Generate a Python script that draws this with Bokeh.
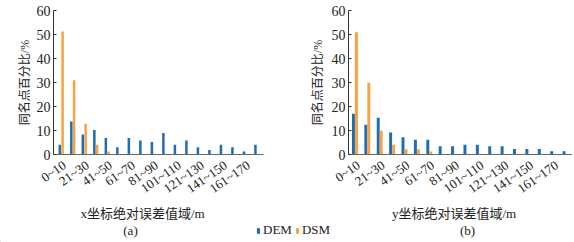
import math
from bokeh.plotting import figure
from bokeh.models import Range1d, FixedTicker, Label, Legend, LegendItem
from bokeh.layouts import column, row
from bokeh.embed import file_html
from bokeh.resources import INLINE

categories = ["0~10", "11~20", "21~30", "31~40", "41~50", "51~60", "61~70",
              "71~80", "81~90", "91~100", "101~110", "111~120", "121~130",
              "131~140", "141~150", "151~160", "161~170", "171~180"]

x_dem = [4.1, 13.8, 8.3, 10.2, 6.9, 3.0, 6.9, 5.8, 5.2, 9.0, 4.1, 5.8, 3.0, 1.9, 4.1, 3.0, 1.2, 4.1]
x_dsm = [51.2, 30.9, 12.8, 4.1, 1.2, 0, 0, 0, 0, 0, 0, 0, 0, 0, 0, 0, 0, 0]
y_dem = [17.0, 12.4, 15.3, 9.2, 7.2, 6.1, 6.1, 3.4, 3.4, 4.1, 4.1, 3.4, 3.4, 2.3, 2.3, 2.3, 1.4, 1.4]
y_dsm = [50.9, 29.9, 9.9, 4.1, 2.2, 2.2, 1.2, 0, 0, 0, 0, 0, 0, 0, 0, 0, 0, 0]

y_ticks = [0, 10, 20, 30, 40, 50, 60]
series_names = ["DEM", "DSM"]
xlabel_a = "x坐标绝对误差值域/m"
xlabel_b = "y坐标绝对误差值域/m"
ylabel = "同名点百分比/%"

BLUE = "#1f6fb0"
ORANGE = "#f5a347"
SERIF = "Liberation Serif"
CJK = "Liberation Serif, Noto Sans CJK SC"


def make_panel(dem, dsm, xr, bar_w, off, border_left, frame_w, border_right,
               lab_standoff, tick_standoff):
    p = figure(frame_width=frame_w, frame_height=144,
               x_range=Range1d(*xr), y_range=Range1d(0, 60),
               output_backend="svg", toolbar_location=None,
               min_border_left=border_left, min_border_right=border_right,
               min_border_top=10, min_border_bottom=52)
    idx = list(range(len(categories)))
    p.vbar(x=idx, top=dem, width=bar_w, color=BLUE, line_color=None)
    p.vbar(x=[i + off for i in idx], top=dsm, width=bar_w, color=ORANGE, line_color=None)
    p.xgrid.visible = False
    p.ygrid.visible = False
    p.outline_line_color = None

    xa = p.xaxis[0]
    tick_pos = [i + 0.4 for i in idx[::2]]
    xa.ticker = FixedTicker(ticks=tick_pos)
    xa.major_label_overrides = {t: categories[i] for t, i in zip(tick_pos, idx[::2])}
    xa.major_label_orientation = 35 * math.pi / 180
    xa.major_tick_line_color = None
    xa.minor_tick_line_color = None
    xa.axis_line_color = "#666666"
    xa.major_label_text_font = SERIF
    xa.major_label_text_font_size = "13px"
    xa.major_label_text_color = "#222222"
    xa.major_label_standoff = 3

    ya = p.yaxis[0]
    ya.ticker = FixedTicker(ticks=y_ticks)
    ya.major_tick_in = 3
    ya.major_tick_out = 0
    ya.minor_tick_line_color = None
    ya.axis_line_color = "#333333"
    ya.major_tick_line_color = "#333333"
    ya.major_label_text_font = SERIF
    ya.major_label_text_font_size = "14px"
    ya.major_label_text_color = "#222222"
    ya.major_label_standoff = tick_standoff
    ya.axis_label = ylabel
    ya.axis_label_text_font = CJK
    ya.axis_label_text_font_size = "12px"
    ya.axis_label_text_font_style = "normal"
    ya.axis_label_text_color = "#222222"
    ya.axis_label_standoff = lab_standoff
    return p


pa = make_panel(x_dem, x_dsm, (-0.55, 17.7), 0.22, 0.24, 53, 210, 27, 2, 3)
pb = make_panel(y_dem, y_dsm, (-0.4, 17.68), 0.24, 0.24, 58, 224, 0, 4, 3)

H = 36
bf = figure(width=572, height=H, x_range=Range1d(0, 572), y_range=Range1d(0, H),
            min_border=0, toolbar_location=None, output_backend="svg",
            x_axis_location=None, y_axis_location=None)
bf.xgrid.visible = False
bf.ygrid.visible = False
bf.outline_line_color = None

for txt, x, y in [(xlabel_a, 142, 29), ("(a)", 130, 12), (xlabel_b, 453.5, 29), ("(b)", 467, 12)]:
    bf.add_layout(Label(x=x, y=y, text=txt, text_align="center", text_baseline="middle",
                        text_font=CJK, text_font_size="13px", text_color="#222222"))

r1 = bf.vbar(x=[-100], top=[1], width=1, color=BLUE, line_color=None)
r2 = bf.vbar(x=[-100], top=[1], width=1, color=ORANGE, line_color=None)
legend = Legend(items=[LegendItem(label=series_names[0], renderers=[r1]),
                       LegendItem(label=series_names[1], renderers=[r2])],
                orientation="horizontal", location=(256, 4),
                glyph_width=4, glyph_height=7, label_standoff=3, spacing=3,
                padding=0, margin=0, border_line_color=None, background_fill_alpha=0,
                label_text_font=SERIF, label_text_font_size="13px", label_height=10,
                label_text_color="#222222")
bf.add_layout(legend)

layout = column(row(pa, pb), bf)
open("out.html", "w").write(file_html(layout, INLINE))
